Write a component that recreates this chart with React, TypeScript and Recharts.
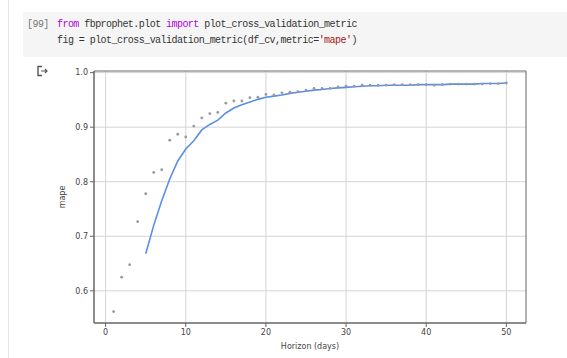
import { LineChart, Line, XAxis, YAxis, CartesianGrid, ReferenceArea, Label } from 'recharts';

// ── Data ──────────────────────────────────────────────────────────────────

const HORIZON_DAYS = [
  1, 2, 3, 4, 5, 6, 7, 8, 9, 10, 11, 12, 13, 14, 15, 16, 17, 18, 19, 20, 21, 22, 23, 24, 25,
  26, 27, 28, 29, 30, 31, 32, 33, 34, 35, 36, 37, 38, 39, 40, 41, 42, 43, 44, 45, 46, 47, 48, 49, 50,
];

// per-horizon mape (grey dots)
const MAPE_POINTS = [
  0.562, 0.625, 0.648, 0.727, 0.778, 0.817, 0.822, 0.876, 0.887, 0.882,
  0.902, 0.917, 0.925, 0.927, 0.944, 0.948, 0.948, 0.954, 0.955, 0.960,
  0.959, 0.963, 0.964, 0.965, 0.968, 0.971, 0.971, 0.971, 0.974, 0.975,
  0.975, 0.977, 0.977, 0.977, 0.977, 0.978, 0.978, 0.978, 0.978, 0.978,
  0.977, 0.978, 0.979, 0.979, 0.979, 0.979, 0.979, 0.980, 0.980, 0.981,
];

// rolling mean (blue line), first value at day 5
const ROLLING_MAPE = [
  null, null, null, null, 0.668, 0.720, 0.765, 0.805, 0.838, 0.860,
  0.875, 0.895, 0.905, 0.913, 0.926, 0.935, 0.941, 0.946, 0.951, 0.955,
  0.957, 0.959, 0.962, 0.964, 0.966, 0.968, 0.969, 0.971, 0.972, 0.973,
  0.974, 0.975, 0.976, 0.976, 0.977, 0.977, 0.977, 0.977, 0.978, 0.978,
  0.978, 0.978, 0.979, 0.979, 0.979, 0.979, 0.980, 0.980, 0.980, 0.981,
];

const X_TICKS = [0, 10, 20, 30, 40, 50];
const Y_TICKS = [0.6, 0.7, 0.8, 0.9, 1.0];

const chartData = HORIZON_DAYS.map((d, i) => ({ day: d, mape: MAPE_POINTS[i], rolling: ROLLING_MAPE[i] }));

// ── Styles ────────────────────────────────────────────────────────────────

const X_DOMAIN: [number, number] = [-1.45, 52.45];
const Y_DOMAIN: [number, number] = [0.541, 1.003];
const TICK_STYLE = { fontSize: 8, fill: '#444', fontFamily: 'DejaVu Sans' };
const SPINE = '#666';
const MONO = { fontFamily: '"Liberation Mono", monospace', fontSize: 10, letterSpacing: '-0.55px', whiteSpace: 'pre' as const };

function OutputIcon() {
  return (
    <svg width={14} height={12} style={{ position: 'absolute', left: 36, top: 65 }}>
      <path d="M6 1.5 H2 V10.5 H6" fill="none" stroke="#555" strokeWidth={1.4} />
      <path d="M5 6 H11 M9 4 L11 6 L9 8" fill="none" stroke="#555" strokeWidth={1.2} />
    </svg>
  );
}

export default function App() {
  return (
    <div style={{ position: 'absolute', left: 0, top: 0, width: 567, height: 358, background: '#fff', overflow: 'hidden' }}>
      <div style={{ position: 'absolute', left: 8, top: 0, width: 1, height: 358, background: '#e6e6e6' }} />
      <div style={{ position: 'absolute', left: 23, top: 12, width: 544, height: 45, background: '#f5f5f5' }} />
      <div style={{ position: 'absolute', left: 27, top: 19, color: '#777', ...MONO }}>[99]</div>
      <div style={{ position: 'absolute', left: 57, top: 19, color: '#333', ...MONO }}>
        <span style={{ color: '#af00db' }}>from</span> fbprophet.plot <span style={{ color: '#af00db' }}>import</span> plot_cross_validation_metric
      </div>
      <div style={{ position: 'absolute', left: 57, top: 35, color: '#333', ...MONO }}>
        fig = plot_cross_validation_metric(df_cv,metric=<span style={{ color: '#a31515' }}>'mape'</span>)
      </div>
      <OutputIcon />
      <div style={{ position: 'absolute', left: 0, top: 0 }}>
        <LineChart width={567} height={358} data={chartData} margin={{ top: 71, right: 41, bottom: 5, left: 56 }}>
          <CartesianGrid stroke="#d4d4d4" strokeWidth={1} horizontalValues={Y_TICKS} verticalValues={X_TICKS} />
          <XAxis
            dataKey="day"
            type="number"
            domain={X_DOMAIN}
            ticks={X_TICKS}
            allowDataOverflow
            height={30}
            tick={TICK_STYLE}
            tickSize={4}
            tickMargin={2}
            axisLine={{ stroke: SPINE }}
            tickLine={{ stroke: SPINE }}
          >
            <Label value="Horizon (days)" position="insideBottom" offset={4} style={{ fontSize: 8, fill: '#444', fontFamily: 'DejaVu Sans' }} />
          </XAxis>
          <YAxis
            type="number"
            domain={Y_DOMAIN}
            ticks={Y_TICKS}
            allowDataOverflow
            width={38}
            tick={TICK_STYLE}
            tickSize={4}
            tickMargin={2}
            tickFormatter={(v: number) => v.toFixed(1)}
            axisLine={{ stroke: SPINE }}
            tickLine={{ stroke: SPINE }}
          >
            <Label value="mape" angle={-90} position="insideLeft" offset={6} style={{ fontSize: 8, fill: '#444', fontFamily: 'DejaVu Sans', textAnchor: 'middle' }} />
          </YAxis>
          <ReferenceArea x1={X_DOMAIN[0]} x2={X_DOMAIN[1]} y1={Y_DOMAIN[0]} y2={Y_DOMAIN[1]} fill="none" stroke={SPINE} strokeWidth={1} ifOverflow="visible" />
          <Line
            dataKey="mape"
            stroke="none"
            dot={{ r: 1.4, fill: '#9a9a9a', stroke: 'none' }}
            activeDot={false}
            isAnimationActive={false}
          />
          <Line
            dataKey="rolling"
            type="linear"
            stroke="#5b8ee6"
            strokeWidth={1.6}
            dot={false}
            activeDot={false}
            isAnimationActive={false}
          />
        </LineChart>
      </div>
    </div>
  );
}
